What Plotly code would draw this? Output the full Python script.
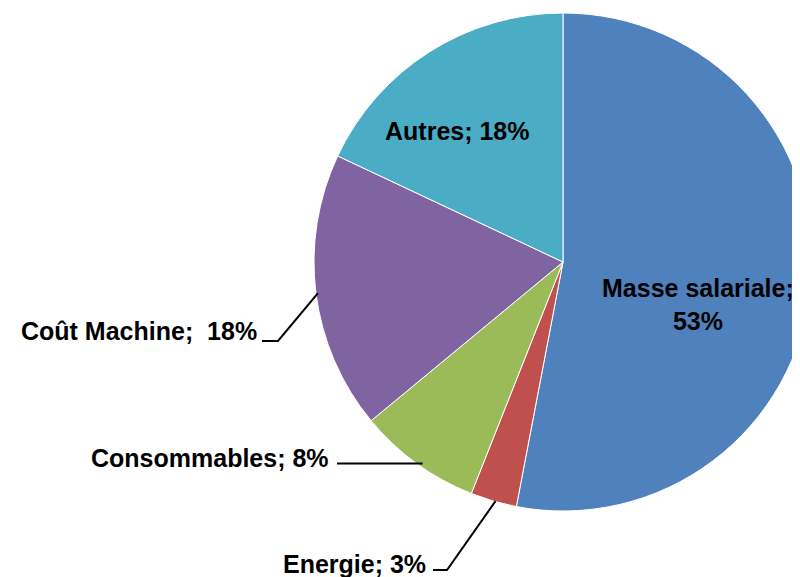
import math
import plotly.graph_objects as go

labels = ["Masse salariale", "Energie", "Consommables", "Coût Machine", "Autres"]
values = [53, 3, 8, 18, 18]
colors = ["#4F81BD", "#C0504D", "#9BBB59", "#8064A2", "#4BACC6"]

W, H = 812, 569
OFF = 8  # page body margin: figure pixel = screen pixel - OFF

# pie geometry in screen pixels
scx, scy, sr = 563, 262, 249


def fx(x):
    return x - OFF


def fy(y):
    return y - OFF


def px(x, y):
    return fx(x) / W, 1 - fy(y) / H


dom_x = (fx(scx - sr), fx(scx + sr))
dom_y = (fy(scy - sr), fy(scy + sr))

fig = go.Figure(go.Pie(
    labels=labels,
    values=values,
    sort=False,
    direction="clockwise",
    rotation=0,
    marker=dict(colors=colors, line=dict(color="white", width=1)),
    textinfo="none",
    hoverinfo="label+percent",
    showlegend=False,
    domain=dict(x=[dom_x[0] / W, dom_x[1] / W], y=[1 - dom_y[1] / H, 1 - dom_y[0] / H]),
))

total = sum(values)
mid = {}
acc = 0
for lab, v in zip(labels, values):
    a = (acc + v / 2) / total * 2 * math.pi
    mid[lab] = (scx + sr * math.sin(a), scy - sr * math.cos(a))
    acc += v

font = dict(family="Liberation Sans, Arial, sans-serif", size=25, color="black", weight="bold")


def pct(lab):
    return f"{round(values[labels.index(lab)] / total * 100)}%"


annos = []
x, y = px(698, 304)
annos.append(dict(x=x, y=y, text=f"Masse salariale;<br>{pct('Masse salariale')}", xanchor="center", yanchor="middle"))
x, y = px(457, 131)
annos.append(dict(x=x, y=y, text=f"Autres; {pct('Autres')}", xanchor="center", yanchor="middle"))
x, y = px(259, 331)
annos.append(dict(x=x, y=y, text=f"Coût Machine;\u00a0\u00a0{pct('Coût Machine')}", xanchor="right", yanchor="middle"))
x, y = px(331, 458)
annos.append(dict(x=x, y=y, text=f"Consommables; {pct('Consommables')}", xanchor="right", yanchor="middle"))
x, y = px(428, 564)
annos.append(dict(x=x, y=y, text=f"Energie; {pct('Energie')}", xanchor="right", yanchor="middle"))

for a in annos:
    a.update(xref="paper", yref="paper", showarrow=False, font=font)


def path(points):
    pts = [px(*p) for p in points]
    return "M " + " L ".join(f"{a:.5f},{b:.5f}" for a, b in pts)


shapes = []
ex, ey = mid["Coût Machine"]
shapes.append(path([(ex + 2, ey), (278, 341), (262, 341)]))
ex, ey = mid["Consommables"]
shapes.append(path([(ex + 6, ey), (337, ey)]))
ex, ey = mid["Energie"]
shapes.append(path([(ex + 2, ey), (447, 570), (433, 570)]))

fig.update_layout(
    width=W, height=H,
    margin=dict(l=0, r=0, t=0, b=0),
    paper_bgcolor="white",
    plot_bgcolor="white",
    annotations=annos,
    shapes=[dict(type="path", path=p, xref="paper", yref="paper",
                 line=dict(color="black", width=2)) for p in shapes],
)

fig.write_html("out.html")
